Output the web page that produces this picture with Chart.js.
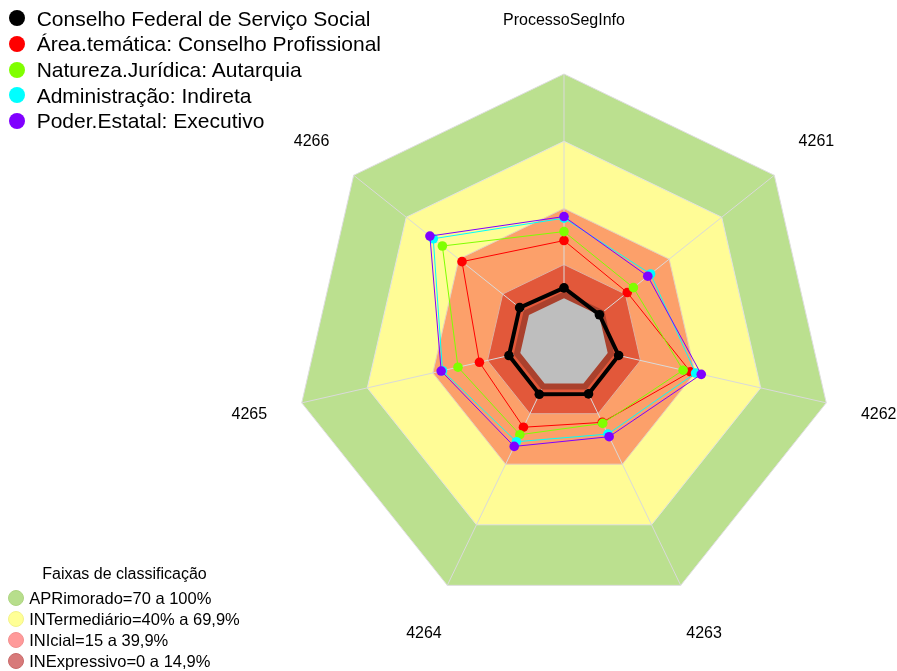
<!DOCTYPE html>
<html>
<head>
<meta charset="utf-8">
<title>ProcessoSegInfo</title>
<script src="https://cdn.jsdelivr.net/npm/chart.js@4"></script>
<style>
  body { margin: 0; background: #fff; }
  #wrap { position: relative; width: 897px; height: 671px; font-family: "Liberation Sans", Arial, sans-serif; color: #000; }
  #chart { position: absolute; left: 0; top: 0; }
  .row { position: absolute; display: flex; align-items: center; white-space: nowrap; line-height: 1; }
  .dot { border-radius: 50%; flex: none; box-sizing: border-box; }
  #legtitle { position: absolute; white-space: nowrap; line-height: 1; transform: translate(-50%, -50%); font-size: 16px; }
</style>
</head>
<body>
<div id="wrap">
  <canvas id="chart" width="897" height="671"></canvas>
</div>
<script>
"use strict";

const labels = ['ProcessoSegInfo', '4261', '4262', '4263', '4264', '4265', '4266'];

const seriesNames = [
  'Conselho Federal de Serviço Social',
  'Área.temática: Conselho Profissional',
  'Natureza.Jurídica: Autarquia',
  'Administração: Indireta',
  'Poder.Estatal: Executivo',
];
const seriesColors = ['#000000', '#ff0000', '#80ff00', '#00ffff', '#8000ff'];

const conselho       = [4.6, 0.2, 5.0, 5.2, 5.4, 5.2, 5.3];
const areaTematica   = [25.7, 16.1, 37.9, 19.3, 21.7, 18.7, 38.2];
const naturezaJur    = [29.7, 19.6, 34.5, 19.8, 25.4, 28.5, 49.4];
const administracao  = [35.7, 29.4, 40.2, 25.1, 28.9, 35.6, 54.6];
const poderEstatal   = [36.4, 27.8, 42.8, 26.4, 31.2, 36.2, 56.5];
const seriesValues = [conselho, areaTematica, naturezaJur, administracao, poderEstatal];

// faixas de classificação, de fora para dentro
const bandLimits = [100, 70, 40, 15, 3, 0];
const bandColors = ['#bbe08f', '#fffc96', '#fca06a', '#e2583a', '#aa412d', '#bebebe'];
const bandBorders = ['#dedede', '#e2e2e2', '#e4d0c0', '#e0b0a0', null, null];

const classNames = [
  'APRimorado=70 a 100%',
  'INTermediário=40% a 69,9%',
  'INIcial=15 a 39,9%',
  'INExpressivo=0 a 14,9%',
];
const classColors = ['#b7de8c', '#ffff96', '#ff9a9a', '#d87a7a'];
const classBorders = ['#aed482', '#f2f28a', '#f29090', '#c86a6a'];

const scaleMin = -20;
const scaleMax = 100;

const datasets = seriesValues.map((vals, i) => ({
  label: seriesNames[i],
  data: vals,
  borderColor: seriesColors[i],
  backgroundColor: seriesColors[i],
  pointBackgroundColor: seriesColors[i],
  borderWidth: i === 0 ? 4 : 1,
  pointRadius: 4.8,
  pointBorderWidth: 0,
  fill: false,
  order: seriesValues.length - 1 - i,
}));

bandLimits.forEach((lim, i) => {
  datasets.push({
    label: 'faixa' + lim,
    data: labels.map(() => lim),
    backgroundColor: bandColors[i],
    borderColor: bandBorders[i] || bandColors[i],
    borderWidth: bandBorders[i] ? 1 : 0,
    pointRadius: 0,
    fill: 'start',
    order: 100 - i,
  });
});

// eixos radiais: desenhados depois da faixa de 15, antes do miolo
const spokes = {
  id: 'spokes',
  afterDatasetDraw(chart, args) {
    if (chart.data.datasets[args.index].label !== 'faixa15') return;
    const r = chart.scales.r;
    const ctx = chart.ctx;
    ctx.save();
    ctx.strokeStyle = '#dadada';
    ctx.lineWidth = 1;
    labels.forEach((_, i) => {
      const p = r.getPointPositionForValue(i, r.max);
      ctx.beginPath();
      ctx.moveTo(r.xCenter, r.yCenter);
      ctx.lineTo(p.x, p.y);
      ctx.stroke();
    });
    ctx.restore();
  },
};

const axisLabels = {
  id: 'axisLabels',
  afterDraw(chart) {
    const r = chart.scales.r;
    const ctx = chart.ctx;
    ctx.save();
    ctx.font = '16px "Liberation Sans", Arial, sans-serif';
    ctx.fillStyle = '#000';
    ctx.textAlign = 'center';
    ctx.textBaseline = 'middle';
    labels.forEach((t, i) => {
      const p = r.getPointPosition(i, r.drawingArea * 1.2);
      ctx.fillText(t, p.x, p.y);
    });
    ctx.restore();
  },
};

new Chart(document.getElementById('chart').getContext('2d'), {
  type: 'radar',
  data: { labels: labels, datasets: datasets },
  options: {
    responsive: false,
    animation: false,
    layout: { padding: { left: 295, right: 64, top: 74, bottom: 59 } },
    plugins: { legend: { display: false }, tooltip: { enabled: false } },
    elements: { line: { tension: 0 } },
    scales: {
      r: {
        min: scaleMin,
        max: scaleMax,
        ticks: { display: false },
        grid: { display: false },
        angleLines: { display: false },
        pointLabels: { display: false },
      },
    },
  },
  plugins: [spokes, axisLabels],
});

// legendas em HTML
const wrap = document.getElementById('wrap');

seriesNames.forEach((name, i) => {
  const row = document.createElement('div');
  row.className = 'row';
  row.style.left = '8.7px';
  row.style.top = (18.3 + 25.6 * i - 12) + 'px';
  row.style.height = '24px';
  row.style.fontSize = '21px';
  const dot = document.createElement('span');
  dot.className = 'dot';
  dot.style.width = '16px';
  dot.style.height = '16px';
  dot.style.background = seriesColors[i];
  const txt = document.createElement('span');
  txt.textContent = name;
  txt.style.marginLeft = '12px';
  row.appendChild(dot);
  row.appendChild(txt);
  wrap.appendChild(row);
});

const title = document.createElement('div');
title.id = 'legtitle';
title.textContent = 'Faixas de classificação';
title.style.left = '124.5px';
title.style.top = '574px';
wrap.appendChild(title);

classNames.forEach((name, i) => {
  const row = document.createElement('div');
  row.className = 'row';
  row.style.left = '7.7px';
  row.style.top = (598.3 + 20.9 * i - 10) + 'px';
  row.style.height = '20px';
  row.style.fontSize = '16.5px';
  const dot = document.createElement('span');
  dot.className = 'dot';
  dot.style.width = '16px';
  dot.style.height = '16px';
  dot.style.background = classColors[i];
  dot.style.border = '1px solid ' + classBorders[i];
  const txt = document.createElement('span');
  txt.textContent = name;
  txt.style.marginLeft = '5.6px';
  row.appendChild(dot);
  row.appendChild(txt);
  wrap.appendChild(row);
});
</script>
</body>
</html>
